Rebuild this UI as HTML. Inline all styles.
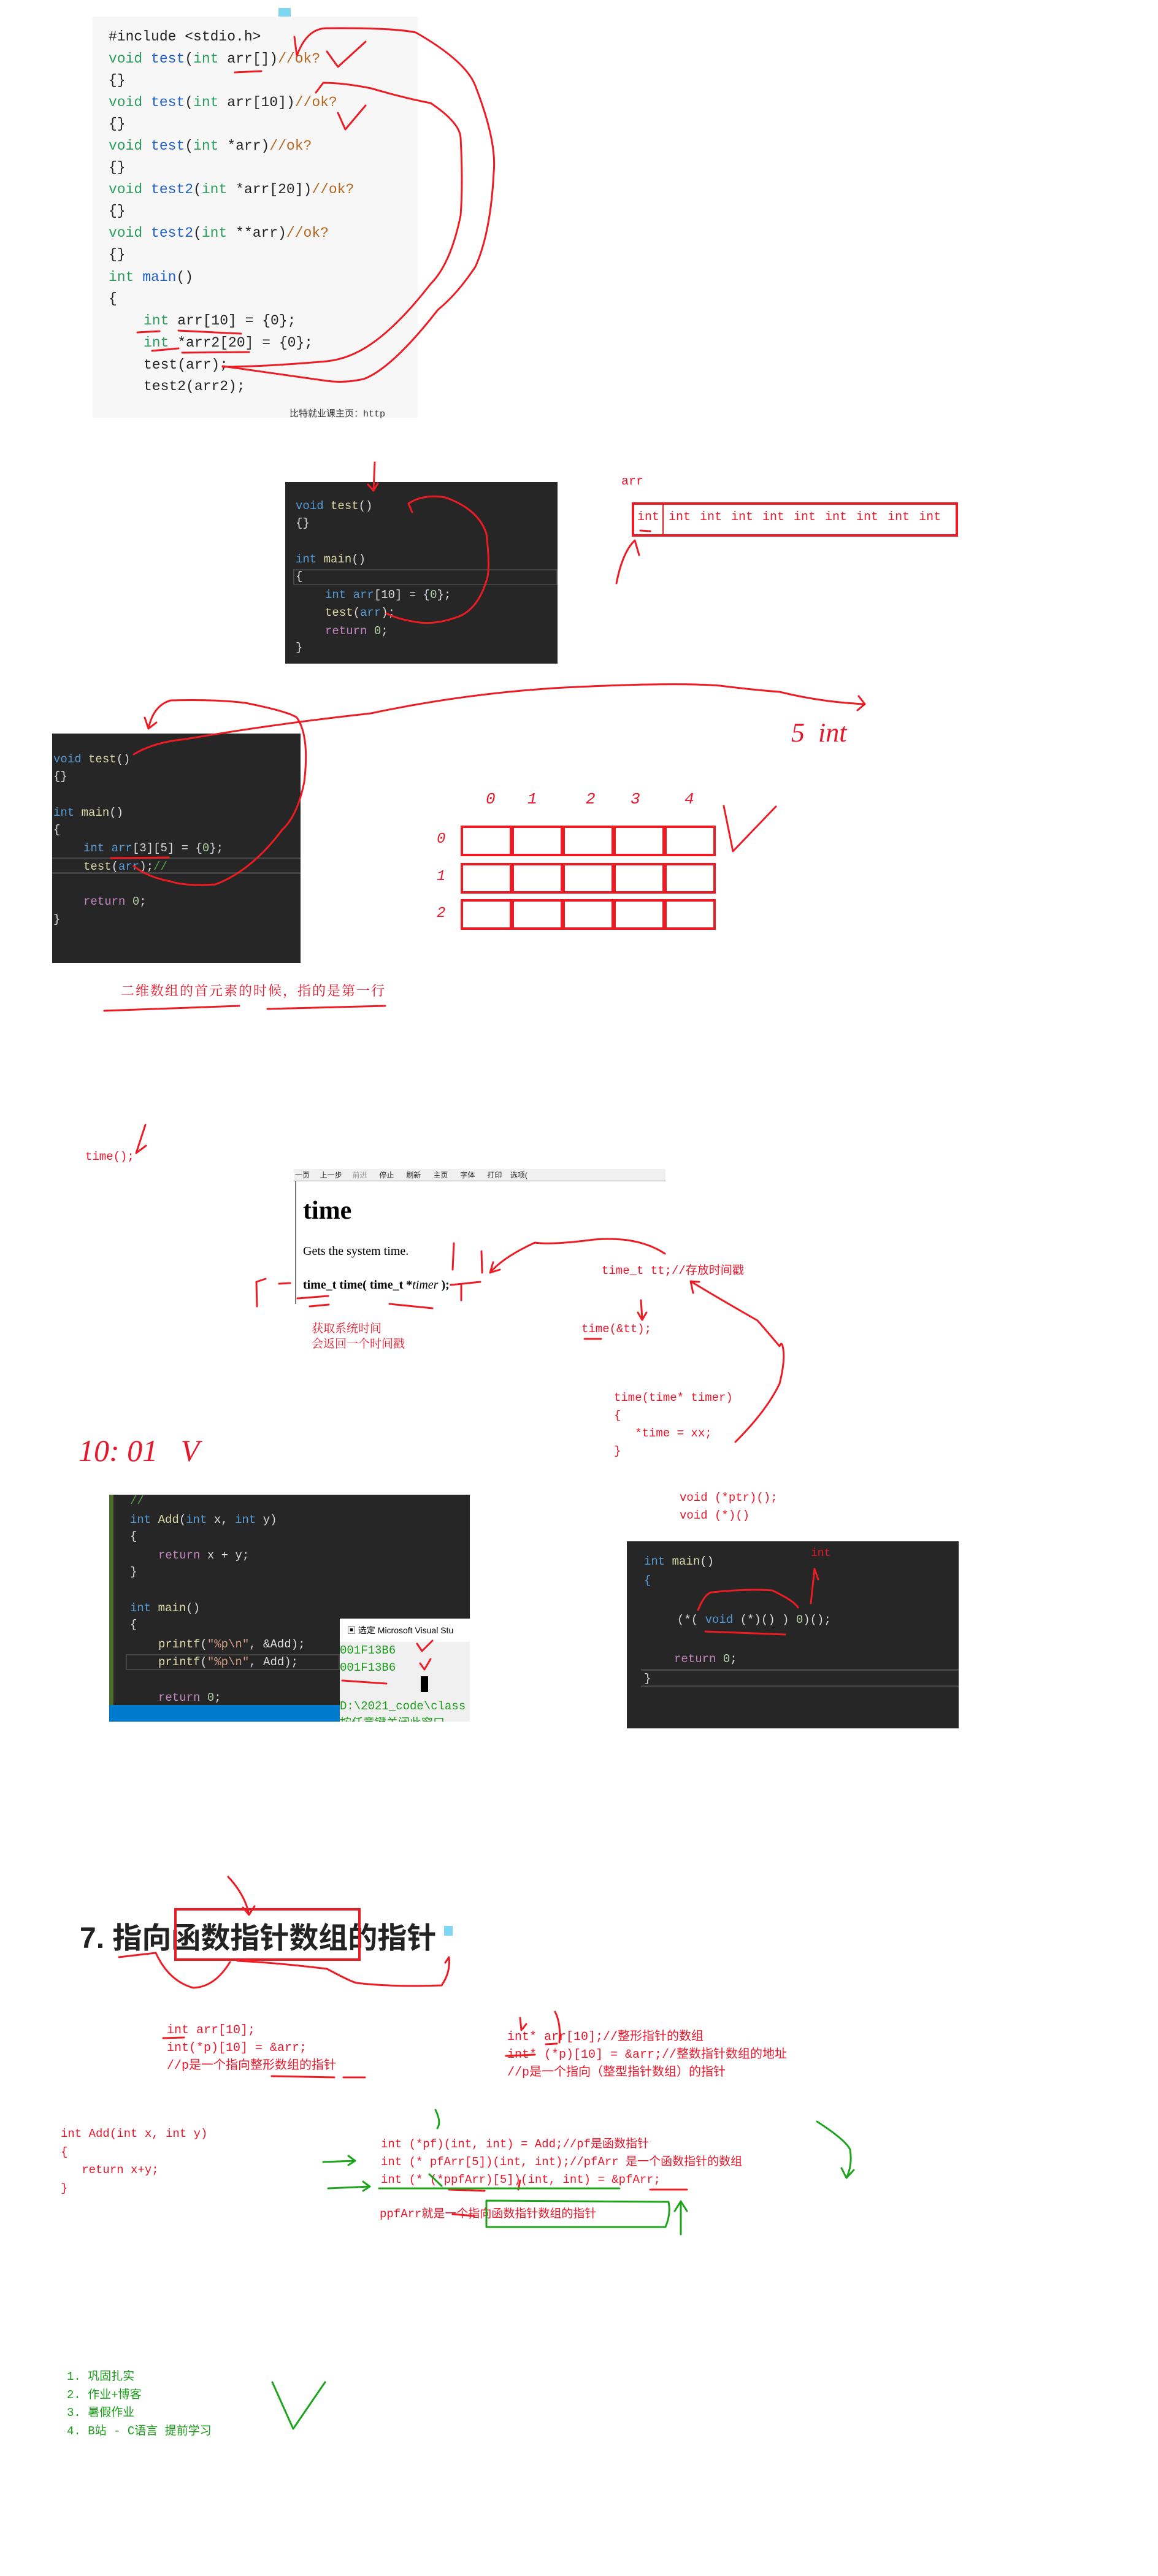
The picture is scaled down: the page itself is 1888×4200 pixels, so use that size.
<!DOCTYPE html>
<html><head><meta charset="utf-8"><style>
*{margin:0;padding:0;box-sizing:border-box}
body{width:1888px;height:4200px;background:#fff;position:relative;overflow:hidden;font-family:"Liberation Mono","Noto Sans CJK SC",monospace}
.t{position:absolute;white-space:pre;line-height:24px}
.lc{font-size:23px;color:#222}
.dk{font-size:19px;color:#dcdcdc}
.rd{color:#e8162a;font-size:20px}
.gr{color:#1a9c1a;font-size:20px}
.kw{color:#2a9d5c}.fn{color:#1f5fbf}.cm{color:#b5651d}
.b{color:#569cd6}.y{color:#dcdcaa}.p{color:#c586c0}.n{color:#b5cea8}
.box{position:absolute}
.cell{position:absolute;border:4px solid #ed1c24;width:84px;height:50px}
.hl{position:absolute;color:#e8162a;font-size:26px;font-style:italic;line-height:30px}
</style></head><body>

<!-- code box 1 -->
<div class="box" style="left:151px;top:27px;width:530px;height:654px;background:#f7f7f7"></div>
<div class="box" style="left:454px;top:13px;width:20px;height:14px;background:#7fd6f0"></div>
<div class="t lc" style="left:177px;top:48px">#include &lt;stdio.h&gt;</div>
<div class="t lc" style="left:177px;top:84px"><span class="kw">void</span> <span class="fn">test</span>(<span class="kw">int</span> arr[])<span class="cm">//ok?</span></div>
<div class="t lc" style="left:177px;top:119px">{}</div>
<div class="t lc" style="left:177px;top:155px"><span class="kw">void</span> <span class="fn">test</span>(<span class="kw">int</span> arr[10])<span class="cm">//ok?</span></div>
<div class="t lc" style="left:177px;top:190px">{}</div>
<div class="t lc" style="left:177px;top:226px"><span class="kw">void</span> <span class="fn">test</span>(<span class="kw">int</span> *arr)<span class="cm">//ok?</span></div>
<div class="t lc" style="left:177px;top:261px">{}</div>
<div class="t lc" style="left:177px;top:297px"><span class="kw">void</span> <span class="fn">test2</span>(<span class="kw">int</span> *arr[20])<span class="cm">//ok?</span></div>
<div class="t lc" style="left:177px;top:332px">{}</div>
<div class="t lc" style="left:177px;top:368px"><span class="kw">void</span> <span class="fn">test2</span>(<span class="kw">int</span> **arr)<span class="cm">//ok?</span></div>
<div class="t lc" style="left:177px;top:403px">{}</div>
<div class="t lc" style="left:177px;top:440px"><span class="kw">int</span> <span class="fn">main</span>()</div>
<div class="t lc" style="left:177px;top:475px">{</div>
<div class="t lc" style="left:234px;top:511px"><span class="kw">int</span> arr[10] = {0};</div>
<div class="t lc" style="left:234px;top:547px"><span class="kw">int</span> *arr2[20] = {0};</div>
<div class="t lc" style="left:234px;top:583px">test(arr);</div>
<div class="t lc" style="left:234px;top:618px">test2(arr2);</div>
<div class="t" style="left:472px;top:664px;font-size:15px;color:#333">比特就业课主页：http</div>

<!-- box 2 -->
<div class="box" style="left:465px;top:786px;width:444px;height:296px;background:#262626"></div>
<div class="box" style="left:478px;top:928px;width:431px;height:26px;border:2px solid #444"></div>
<div class="t dk" style="left:482px;top:813px"><span class="b">void</span> <span class="y">test</span>()</div>
<div class="t dk" style="left:482px;top:841px">{}</div>
<div class="t dk" style="left:482px;top:900px"><span class="b">int</span> <span class="y">main</span>()</div>
<div class="t dk" style="left:482px;top:928px">{</div>
<div class="t dk" style="left:530px;top:958px"><span class="b">int</span> <span class="b">arr</span>[10] = {<span class="n">0</span>};</div>
<div class="t dk" style="left:530px;top:987px"><span class="y">test</span>(<span class="b">arr</span>);</div>
<div class="t dk" style="left:530px;top:1017px"><span class="p">return</span> <span class="n">0</span>;</div>
<div class="t dk" style="left:482px;top:1044px">}</div>

<div class="t rd" style="left:1013px;top:774px">arr</div>
<div class="box" style="left:1030px;top:819px;width:532px;height:56px;border:4px solid #ed1c24"></div>
<div class="box" style="left:1080px;top:823px;width:2px;height:50px;background:#ed1c24"></div>
<div class="t rd" style="left:1039px;top:832px;word-spacing:3px">int int int int int int int int int int</div>

<!-- box 3 -->
<div class="box" style="left:85px;top:1196px;width:405px;height:374px;background:#262626"></div>
<div class="box" style="left:85px;top:1398px;width:405px;height:27px;border-top:3px solid #444;border-bottom:3px solid #444"></div>
<div class="t dk" style="left:87px;top:1226px"><span class="b">void</span> <span class="y">test</span>()</div>
<div class="t dk" style="left:87px;top:1254px">{}</div>
<div class="t dk" style="left:87px;top:1313px"><span class="b">int</span> <span class="y">main</span>()</div>
<div class="t dk" style="left:87px;top:1341px">{</div>
<div class="t dk" style="left:136px;top:1371px"><span class="b">int</span> <span class="b">arr</span>[3][5] = {<span class="n">0</span>};</div>
<div class="t dk" style="left:136px;top:1401px"><span class="y">test</span>(<span class="b">arr</span>);<span style="color:#57a64a">//</span></div>
<div class="t dk" style="left:136px;top:1458px"><span class="p">return</span> <span class="n">0</span>;</div>
<div class="t dk" style="left:87px;top:1487px">}</div>

<!-- grid -->
<div class="hl" style="left:792px;top:1288px">0</div>
<div class="hl" style="left:860px;top:1288px">1</div>
<div class="hl" style="left:955px;top:1288px">2</div>
<div class="hl" style="left:1028px;top:1288px">3</div>
<div class="hl" style="left:1116px;top:1288px">4</div>
<div class="t rd" style="left:712px;top:1357px;font-size:24px;font-style:italic">0</div>
<div class="t rd" style="left:712px;top:1418px;font-size:24px;font-style:italic">1</div>
<div class="t rd" style="left:712px;top:1478px;font-size:24px;font-style:italic">2</div>
<div class="cell" style="left:751px;top:1346px"></div><div class="cell" style="left:834px;top:1346px"></div><div class="cell" style="left:917px;top:1346px"></div><div class="cell" style="left:1000px;top:1346px"></div><div class="cell" style="left:1083px;top:1346px"></div>
<div class="cell" style="left:751px;top:1407px"></div><div class="cell" style="left:834px;top:1407px"></div><div class="cell" style="left:917px;top:1407px"></div><div class="cell" style="left:1000px;top:1407px"></div><div class="cell" style="left:1083px;top:1407px"></div>
<div class="cell" style="left:751px;top:1466px"></div><div class="cell" style="left:834px;top:1466px"></div><div class="cell" style="left:917px;top:1466px"></div><div class="cell" style="left:1000px;top:1466px"></div><div class="cell" style="left:1083px;top:1466px"></div>
<div class="t rd" style="left:1290px;top:1170px;font-size:44px;line-height:50px;font-style:italic;font-family:'Liberation Serif',serif">5  int</div>

<div class="t rd" style="left:197px;top:1604px;font-size:22px;letter-spacing:2px;font-family:'Liberation Serif','Noto Serif CJK SC',serif">二维数组的首元素的时候，指的是第一行</div>

<!-- time section -->
<div class="t rd" style="left:139px;top:1874px;font-size:19px">time();</div>
<div class="box" style="left:479px;top:1906px;width:606px;height:20px;background:#f0f0f0;border-bottom:1px solid #999"></div>
<div class="t" style="left:481px;top:1906px;font-size:12px;line-height:20px;color:#222;font-family:'Liberation Sans','Noto Sans CJK SC',sans-serif">一页&nbsp;&nbsp;&nbsp;&nbsp;&nbsp;上一步&nbsp;&nbsp;&nbsp;&nbsp;&nbsp;<span style="color:#999">前进</span>&nbsp;&nbsp;&nbsp;&nbsp;&nbsp;&nbsp;停止&nbsp;&nbsp;&nbsp;&nbsp;&nbsp;&nbsp;刷新&nbsp;&nbsp;&nbsp;&nbsp;&nbsp;&nbsp;主页&nbsp;&nbsp;&nbsp;&nbsp;&nbsp;&nbsp;字体&nbsp;&nbsp;&nbsp;&nbsp;&nbsp;&nbsp;打印&nbsp;&nbsp;&nbsp;&nbsp;选项(</div>
<div class="box" style="left:481px;top:1926px;width:2px;height:200px;background:#777"></div>
<div class="t" style="left:494px;top:1950px;font-size:42px;line-height:48px;font-weight:bold;font-family:'Liberation Serif',serif">time</div>
<div class="t" style="left:494px;top:2028px;font-size:20px;font-family:'Liberation Serif',serif">Gets the system time.</div>
<div class="t" style="left:494px;top:2083px;font-size:20px;font-weight:bold;font-family:'Liberation Serif',serif">time_t time( time_t *<i style="font-weight:normal">timer</i> );</div>
<div class="t rd" style="left:981px;top:2060px;font-size:19px">time_t tt;//存放时间戳</div>
<div class="t rd" style="left:948px;top:2155px;font-size:19px">time(&amp;tt);</div>
<div class="t rd" style="left:508px;top:2154px;font-size:19px;line-height:25px;font-family:'Liberation Serif','Noto Serif CJK SC',serif">获取系统时间<br>会返回一个时间戳</div>
<div class="t rd" style="left:1001px;top:2265px;font-size:19px;line-height:29px">time(time* timer)<br>{<br>   *time = xx;<br>}</div>
<div class="t rd" style="left:128px;top:2335px;font-size:50px;line-height:60px;font-family:'Liberation Serif',serif;font-style:italic">10: 01   V</div>

<!-- box 4 -->
<div class="box" style="left:178px;top:2437px;width:588px;height:370px;background:#262626"></div>
<div class="box" style="left:178px;top:2437px;width:7px;height:343px;background:#4e6b2e"></div>
<div class="box" style="left:178px;top:2780px;width:376px;height:27px;background:#007acc"></div>
<div class="box" style="left:205px;top:2697px;width:349px;height:26px;border:2px solid #444"></div>
<div class="t dk" style="left:212px;top:2435px;color:#57a64a">//</div>
<div class="t dk" style="left:212px;top:2466px"><span class="b">int</span> <span class="y">Add</span>(<span class="b">int</span> x, <span class="b">int</span> y)</div>
<div class="t dk" style="left:212px;top:2493px">{</div>
<div class="t dk" style="left:258px;top:2524px"><span class="p">return</span> x + y;</div>
<div class="t dk" style="left:212px;top:2551px">}</div>
<div class="t dk" style="left:212px;top:2610px"><span class="b">int</span> <span class="y">main</span>()</div>
<div class="t dk" style="left:212px;top:2637px">{</div>
<div class="t dk" style="left:258px;top:2669px"><span class="y">printf</span>(<span style="color:#d69d85">"%p\n"</span>, &amp;Add);</div>
<div class="t dk" style="left:258px;top:2698px"><span class="y">printf</span>(<span style="color:#d69d85">"%p\n"</span>, Add);</div>
<div class="t dk" style="left:258px;top:2756px"><span class="p">return</span> <span class="n">0</span>;</div>
<div class="box" style="left:554px;top:2639px;width:212px;height:168px;background:#f0f0f0;overflow:hidden">
<div style="height:38px;background:#fff;font:14px/38px 'Liberation Sans','Noto Sans CJK SC',sans-serif;white-space:nowrap;padding-left:12px">▣ 选定 Microsoft Visual Stu</div>
<div style="font:19px/28px 'Liberation Mono','Noto Sans CJK SC',monospace;color:#1a9c1a;white-space:nowrap">001F13B6<br>001F13B6<br><span style="display:inline-block;margin-left:132px;width:12px;height:26px;background:#000"></span><br>D:\2021_code\class<br>按任意键关闭此窗口</div></div>

<div class="t rd" style="left:1108px;top:2428px;font-size:19px;line-height:29px">void (*ptr)();<br>void (*)()</div>

<!-- box 5 -->
<div class="box" style="left:1022px;top:2513px;width:541px;height:305px;background:#262626"></div>
<div class="box" style="left:1045px;top:2721px;width:518px;height:30px;border-top:3px solid #444;border-bottom:3px solid #444"></div>
<div class="t dk" style="left:1050px;top:2534px"><span class="b">int</span> <span class="y">main</span>()</div>
<div class="t dk" style="left:1050px;top:2565px;color:#569cd6">{</div>
<div class="t dk" style="left:1104px;top:2629px">(*( <span class="b">void</span> (*)() ) <span class="n">0</span>)();</div>
<div class="t dk" style="left:1099px;top:2693px"><span class="p">return</span> <span class="n">0</span>;</div>
<div class="t dk" style="left:1050px;top:2725px">}</div>
<div class="t rd" style="left:1322px;top:2521px;font-size:18px">int</div>

<!-- heading -->
<div class="t" style="left:130px;top:3134px;font-size:48px;line-height:54px;font-weight:bold;color:#222;font-family:'Liberation Sans','Noto Sans CJK SC',sans-serif">7. 指向函数指针数组的指针</div>
<div class="box" style="left:284px;top:3111px;width:304px;height:86px;border:4px solid #ed1c24"></div>
<div class="box" style="left:724px;top:3140px;width:14px;height:16px;background:#7fd6f0"></div>

<div class="t rd" style="left:272px;top:3296px;font-size:20px;line-height:29px">int arr[10];<br>int(*p)[10] = &amp;arr;<br>//p是一个指向整形数组的指针</div>
<div class="t rd" style="left:827px;top:3307px;font-size:20px;line-height:29px">int* arr[10];//整形指针的数组<br>int* (*p)[10] = &amp;arr;//整数指针数组的地址<br>//p是一个指向（整型指针数组）的指针</div>
<div class="t rd" style="left:99px;top:3465px;font-size:19px;line-height:29.5px">int Add(int x, int y)<br>{<br>   return x+y;<br>}</div>
<div class="t rd" style="left:621px;top:3482px;font-size:19px;line-height:29px">int (*pf)(int, int) = Add;//pf是函数指针<br>int (* pfArr[5])(int, int);//pfArr 是一个函数指针的数组<br>int (* (*ppfArr)[5])(int, int) = &amp;pfArr;</div>
<div class="t rd" style="left:619px;top:3598px;font-size:19px">ppfArr就是一个指向函数指针数组的指针</div>

<div class="t gr" style="left:109px;top:3861px;font-size:19px;line-height:29.5px">1. 巩固扎实<br>2. 作业+博客<br>3. 暑假作业<br>4. B站 - C语言 提前学习</div>

<svg width="1888" height="4200" style="position:absolute;left:0;top:0" fill="none" stroke-linecap="round" stroke-linejoin="round">
<g stroke="#ed1c24" stroke-width="3">
<path d="M484,91 L480,60 M484,91 Q500,46 533,46 Q640,45 678,53 Q760,100 775,140 Q810,230 805,281 Q800,380 775,435 Q745,480 714,505 Q640,600 593,618 Q560,625 533,621 Q420,605 363,597"/>
<path d="M515,151 L527,135 Q560,135 605,144 Q660,160 702,168 Q750,200 751,225 Q755,300 751,351 Q735,430 702,463 Q650,530 605,561 Q570,585 533,589 Q430,598 363,598"/>
<path d="M533,84 L551,109 L596,68 M551,184 L563,211 L596,172"/>
<path d="M383,118 L426,116 M224,542 L260,540 M291,539 L393,544 M248,572 L291,568 M297,575 L406,574"/>
<path d="M611,754 L609,800 M600,790 L609,800 L616,788"/>
<path d="M666,821 Q690,805 726,811 Q780,830 793,870 Q800,930 793,947 Q780,990 751,1004 Q710,1020 678,1014 Q650,1010 630,1000 M666,821 L672,835"/>
<path d="M1005,951 Q1015,900 1035,881 L1042,905 M1044,865 L1060,866"/>
<path d="M218,1230 Q250,1210 303,1205 Q450,1180 605,1163 Q760,1130 920,1121 Q1100,1112 1174,1118 Q1230,1125 1271,1128 Q1340,1145 1410,1148 M1400,1135 L1410,1148 L1398,1158"/>
<path d="M242,1188 Q250,1150 278,1142 Q350,1140 400,1146 Q470,1160 484,1170 Q505,1200 496,1275 Q485,1330 460,1353 Q410,1420 351,1442 Q300,1445 278,1437 Q240,1430 218,1412 M242,1188 L236,1170 M242,1188 L255,1178"/>
<path d="M170,1648 L390,1640 M436,1645 L628,1640 M181,1399 L275,1398"/>
<path d="M1180,1314 L1195,1388 L1265,1315"/>
<path d="M1084,2044 Q1040,2015 969,2021 Q900,2030 872,2026 Q820,2050 799,2075 M799,2075 L804,2058 M799,2075 L815,2070"/>
<path d="M1199,2351 Q1250,2300 1271,2256 Q1280,2220 1277,2200 Q1275,2185 1271,2195 Q1250,2170 1235,2153 Q1160,2110 1126,2089 L1130,2108 M1126,2089 L1140,2090"/>
<path d="M1045,2120 L1047,2150 M1040,2140 L1047,2152 L1054,2140 M953,2183 L980,2183"/>
<path d="M740,2027 L738,2070 M785,2040 L786,2075 M735,2095 L783,2090 M752,2096 L752,2120 M485,2117 L535,2113 M505,2130 L536,2127 M635,2126 L705,2133 M433,2085 L418,2090 L419,2130 M455,2093 L473,2092"/>
<path d="M237,1834 L222,1880 L238,1868"/>
<path d="M1138,2625 Q1150,2596 1162,2596 Q1220,2590 1259,2593 Q1295,2610 1301,2621 M1150,2660 L1280,2665 M1322,2614 L1328,2558 L1334,2575"/>
<path d="M558,2740 L630,2745 M680,2680 L688,2692 L705,2675 M685,2712 L692,2722 L702,2705"/>
<path d="M372,3060 Q400,3090 406,3122 M396,3110 L406,3122 L415,3108"/>
<path d="M194,3191 L254,3184 Q275,3230 315,3241 Q350,3240 375,3199 M387,3197 Q450,3200 533,3210 Q570,3230 581,3233 Q640,3240 720,3237 Q735,3215 732,3191 L726,3200"/>
<path d="M266,3323 L300,3322 M443,3385 L545,3387 M560,3387 L595,3387 M890,3333 L908,3332 M825,3352 L872,3350 M738,3610 L773,3613 M732,3570 L790,3572 M1060,3570 L1120,3570 M845,3570 L848,3555"/>
<path d="M850,3310 L848,3290 M852,3308 L858,3300 M905,3280 Q915,3300 912,3330"/>
</g>
<g stroke="#1ca51c" stroke-width="3">
<path d="M527,3525 L579,3523 M568,3515 L579,3523 L568,3530"/>
<path d="M535,3568 L603,3565 M592,3557 L603,3565 L592,3572"/>
<path d="M793,3588 L1090,3590 Q1094,3610 1085,3631 L793,3631 Z"/>
<path d="M618,3568 L1010,3568 M720,3564 L700,3545"/>
<path d="M1332,3459 Q1380,3490 1386,3505 Q1390,3530 1380,3551 M1372,3535 L1380,3551 L1392,3538"/>
<path d="M1110,3643 L1110,3589 M1100,3605 L1110,3589 L1120,3605"/>
<path d="M710,3440 Q720,3460 713,3470 M444,3884 L478,3960 L530,3884"/>
</g>
</svg>
</body></html>
